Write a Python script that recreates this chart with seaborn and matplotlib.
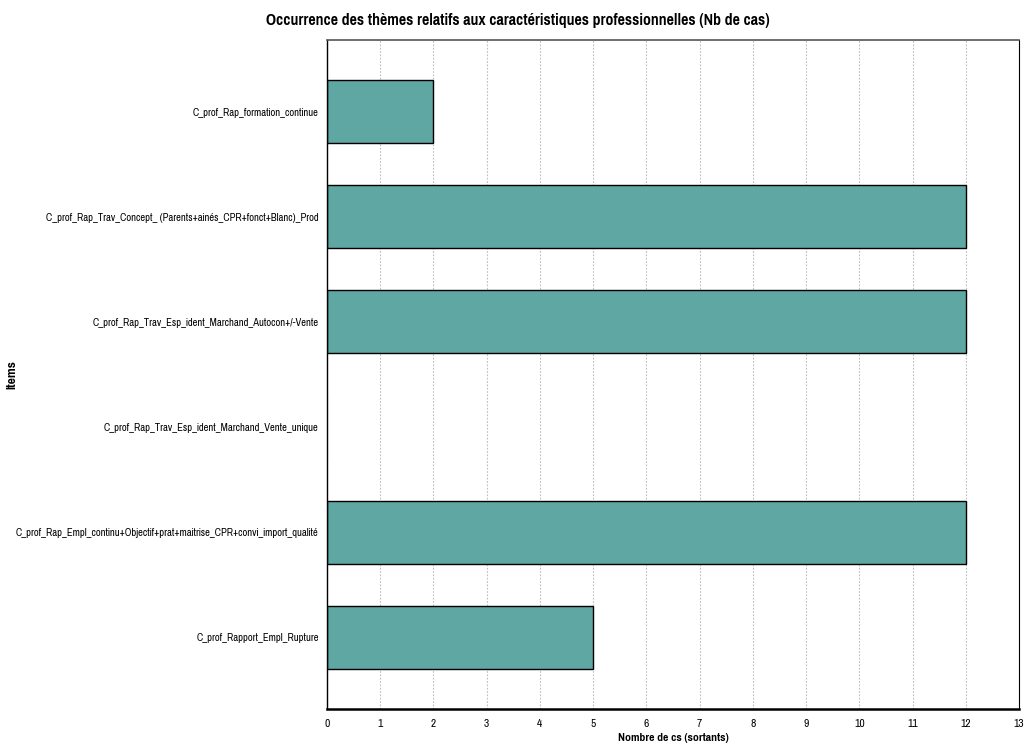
import matplotlib
matplotlib.use("Agg")
import matplotlib.pyplot as plt
import pandas as pd
import seaborn as sns

items = [
    "C_prof_Rap_formation_continue",
    "C_prof_Rap_Trav_Concept_ (Parents+ainés_CPR+fonct+Blanc)_Prod",
    "C_prof_Rap_Trav_Esp_ident_Marchand_Autocon+/-Vente",
    "C_prof_Rap_Trav_Esp_ident_Marchand_Vente_unique",
    "C_prof_Rap_Empl_continu+Objectif+prat+maitrise_CPR+convi_import_qualité",
    "C_prof_Rapport_Empl_Rupture",
]
counts = [2, 12, 12, 0, 12, 5]
xticks = list(range(0, 14))

df = pd.DataFrame({"item": items, "n": counts})

sns.set_style("white")
plt.rcParams["font.family"] = ["Liberation Sans Narrow", "Arial Narrow", "Pragati Narrow",
                               "Archivo Narrow", "Roboto Condensed", "Liberation Sans",
                               "DejaVu Sans"]
plt.rcParams["text.color"] = "black"
plt.rcParams["axes.labelcolor"] = "black"
plt.rcParams["xtick.color"] = "black"
plt.rcParams["ytick.color"] = "black"

fig = plt.figure(figsize=(10.27, 7.49), dpi=100)
ax = fig.add_axes([327 / 1027, 40 / 749, 692 / 1027, 669 / 749])
ax.set_axisbelow(True)
ax.xaxis.grid(True, linestyle=(0, (1.5, 1.5)), color="#bdbdbd", linewidth=0.8)

teal = "#5fa7a2"
sns.barplot(data=df, x="n", y="item", orient="h", color=teal, width=0.6,
            edgecolor="black", linewidth=1.0, saturation=1, ax=ax)
# a bar of zero width keeps the fill colour as its edge
for p, v in zip(ax.patches, counts):
    if v == 0:
        p.set_edgecolor(teal)
        p.set_linewidth(1.5)

ax.set_xlim(0, 13)
ax.set_ylim(5.68, -0.68)
ax.set_xticks(xticks)
ax.tick_params(axis="both", length=4, width=0.8, direction="out", color="#888888")
ax.tick_params(axis="y", labelsize=8.3, pad=2)
ax.tick_params(axis="x", labelsize=9, pad=3)
ax.set_xlabel("Nombre de cs (sortants)", fontsize=9.2, fontweight="bold", labelpad=3)
ax.set_ylabel("Items", fontsize=10.5, fontweight="bold")
ax.yaxis.set_label_coords(-0.447, 0.5)
fig.text(518 / 1027, 1 - 21 / 749,
         "Occurrence des thèmes relatifs aux caractéristiques professionnelles (Nb de cas)",
         fontsize=12.4, fontweight="bold", ha="center", va="center")

for s in ["left", "right", "top", "bottom"]:
    ax.spines[s].set_visible(True)
ax.spines["top"].set_color("#555555")
ax.spines["top"].set_linewidth(1.2)
ax.spines["left"].set_color("black")
ax.spines["left"].set_linewidth(1.0)
ax.spines["right"].set_color("black")
ax.spines["right"].set_linewidth(0.8)
ax.spines["bottom"].set_color("black")
ax.spines["bottom"].set_linewidth(1.8)

fig.savefig("out.png", dpi=100)
